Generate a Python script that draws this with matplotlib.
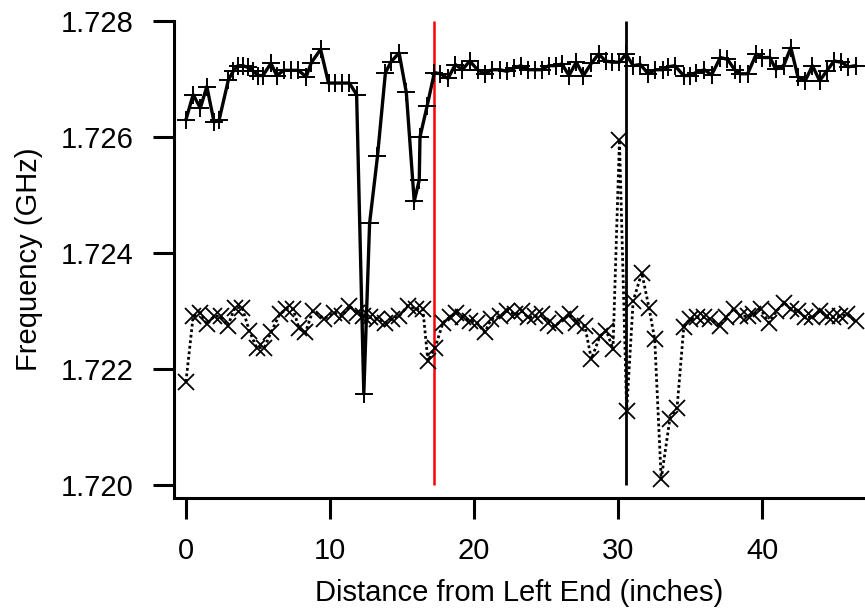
import matplotlib
matplotlib.use("Agg")
import matplotlib.pyplot as plt

plt.rcParams["font.family"] = ["Liberation Sans", "DejaVu Sans"]

# Upper trace (+ markers, solid line).
upper_distance = [
    0.0, 0.5, 1.0, 1.45, 1.95, 2.3, 2.95, 3.3, 3.6, 3.95, 4.3, 4.65, 5.0,
    5.35, 5.9, 6.3, 6.8, 7.3, 7.8, 8.35, 8.7, 9.35, 9.9, 10.35, 10.85, 11.35,
    11.85, 12.35, 12.75, 13.3, 13.85, 14.25, 14.8, 15.3, 15.85, 16.2, 16.25,
    16.75, 17.25, 17.65, 18.2, 18.7, 19.2, 19.7, 20.25, 20.75, 21.25, 21.8,
    22.3, 22.8, 23.25, 23.75, 24.25, 24.7, 25.2, 25.7, 26.1, 26.6, 27.1, 27.6,
    28.15, 28.65, 29.15, 29.6, 30.1, 30.55, 31.05, 31.55, 32.1, 32.6, 33.1,
    33.5, 33.95, 34.55, 35.0, 35.4, 36.0, 36.5, 37.1, 37.6, 38.1, 38.5, 39.0,
    39.6, 40.0, 40.55, 40.95, 41.5, 42.0, 42.5, 43.0, 43.5, 44.0, 44.5, 45.0,
    45.5, 46.0, 46.5,
]
upper_freq = [
    1.72630, 1.72673, 1.72650, 1.72687, 1.72626, 1.72629, 1.72699, 1.72714,
    1.72723, 1.72723, 1.72720, 1.72714, 1.72706, 1.72706, 1.72727, 1.72706,
    1.72715, 1.72715, 1.72715, 1.72704, 1.72728, 1.72751, 1.72693, 1.72693,
    1.72693, 1.72693, 1.72673, 1.72157, 1.72451, 1.72567, 1.72711, 1.72730,
    1.72745, 1.72677, 1.72489, 1.72526, 1.72600, 1.72654, 1.72711, 1.72709,
    1.72701, 1.72725, 1.72716, 1.72731, 1.72716, 1.72709, 1.72716, 1.72716,
    1.72713, 1.72719, 1.72723, 1.72716, 1.72716, 1.72716, 1.72723, 1.72723,
    1.72726, 1.72706, 1.72729, 1.72706, 1.72727, 1.72743, 1.72731, 1.72729,
    1.72729, 1.72743, 1.72723, 1.72725, 1.72709, 1.72716, 1.72716, 1.72721,
    1.72723, 1.72706, 1.72706, 1.72711, 1.72716, 1.72707, 1.72737, 1.72734,
    1.72716, 1.72709, 1.72709, 1.72743, 1.72737, 1.72737, 1.72717, 1.72723,
    1.72754, 1.72703, 1.72697, 1.72723, 1.72697, 1.72714, 1.72731, 1.72729,
    1.72721, 1.72723,
]

# Lower trace (x markers, dotted line).
lower_distance = [
    0.0, 0.5, 1.0, 1.45, 1.95, 2.4, 2.9, 3.4, 3.9, 4.4, 4.9, 5.45, 5.9, 6.5,
    6.95, 7.45, 7.85, 8.3, 8.8, 9.6, 10.3, 10.85, 11.35, 11.85, 12.3, 12.75,
    13.3, 13.85, 14.3, 14.8, 15.4, 15.95, 16.45, 16.8, 17.3, 17.85, 18.3,
    18.75, 19.25, 19.75, 20.2, 20.75, 21.2, 21.8, 22.3, 22.85, 23.3, 23.75,
    24.25, 24.7, 25.15, 25.6, 26.2, 26.65, 27.1, 27.7, 28.15, 28.75, 29.2,
    29.65, 30.1, 30.6, 31.05, 31.65, 32.15, 32.55, 33.0, 33.6, 34.1, 34.57,
    35.0, 35.5, 35.95, 36.4, 37.05, 37.5, 38.05, 38.5, 39.0, 39.4, 39.9, 40.5,
    41.0, 41.55, 42.0, 42.5, 43.0, 43.5, 44.0, 44.5, 44.95, 45.4, 45.9, 46.5,
]
lower_freq = [
    1.72178, 1.72291, 1.72297, 1.72277, 1.72291, 1.72291, 1.72274, 1.72306,
    1.72306, 1.72266, 1.72237, 1.72237, 1.72263, 1.72294, 1.72303, 1.72303,
    1.72270, 1.72263, 1.72300, 1.72287, 1.72297, 1.72291, 1.72309, 1.72297,
    1.72291, 1.72289, 1.72287, 1.72280, 1.72286, 1.72291, 1.72309, 1.72303,
    1.72303, 1.72214, 1.72237, 1.72280, 1.72289, 1.72297, 1.72289, 1.72283,
    1.72280, 1.72263, 1.72286, 1.72291, 1.72300, 1.72294, 1.72300, 1.72289,
    1.72291, 1.72294, 1.72280, 1.72274, 1.72286, 1.72294, 1.72280, 1.72274,
    1.72217, 1.72257, 1.72266, 1.72234, 1.72595, 1.72128, 1.72317, 1.72366,
    1.72306, 1.72251, 1.72010, 1.72114, 1.72133, 1.72273, 1.72286, 1.72289,
    1.72289, 1.72286, 1.72274, 1.72289, 1.72304, 1.72291, 1.72291, 1.72294,
    1.72303, 1.72280, 1.72300, 1.72314, 1.72303, 1.72300, 1.72289, 1.72289,
    1.72300, 1.72291, 1.72289, 1.72291, 1.72294, 1.72283,
]

# Cursor positions (inches).
red_cursor = 17.25
black_cursor = 30.55

x_ticks = [0, 10, 20, 30, 40]
y_ticks = [1.720, 1.722, 1.724, 1.726, 1.728]

fig = plt.figure(figsize=(8.65, 6.14), dpi=100)
ax = fig.add_axes([174 / 865, 1 - 498 / 614, 691 / 865, 477 / 614])

ax.vlines(red_cursor, 1.720, 1.728, color="#ff0000", lw=1.8, zorder=1)
ax.vlines(black_cursor, 1.720, 1.728, color="black", lw=2.0, zorder=1)

ax.plot(upper_distance, upper_freq, color="black", lw=2.4, marker="+",
    markersize=13, markeredgewidth=1.4, zorder=3)
ax.plot(lower_distance, lower_freq, color="black", lw=2.0,
    linestyle=(0, (1, 1)), marker="x", markersize=11, markeredgewidth=1.3,
    zorder=2)

ax.set_xlim(-0.83, 47.15)
ax.set_ylim(1.719776, 1.728)
ax.set_xticks(x_ticks)
ax.set_yticks(y_ticks)
ax.set_yticklabels(["%.3f" % v for v in y_ticks])

for side in ["top", "right"]:
    ax.spines[side].set_visible(False)
for side in ["left", "bottom"]:
    ax.spines[side].set_linewidth(2.2)

ax.tick_params(axis="both", direction="out", length=15, width=2.2,
    labelsize=21)
ax.tick_params(axis="y", pad=14)
ax.tick_params(axis="x", pad=13)

ax.set_xlabel("Distance from Left End (inches)", fontsize=21, labelpad=10)
ax.set_ylabel("Frequency (GHz)", fontsize=21, labelpad=13)

fig.savefig("out.png", dpi=100)
